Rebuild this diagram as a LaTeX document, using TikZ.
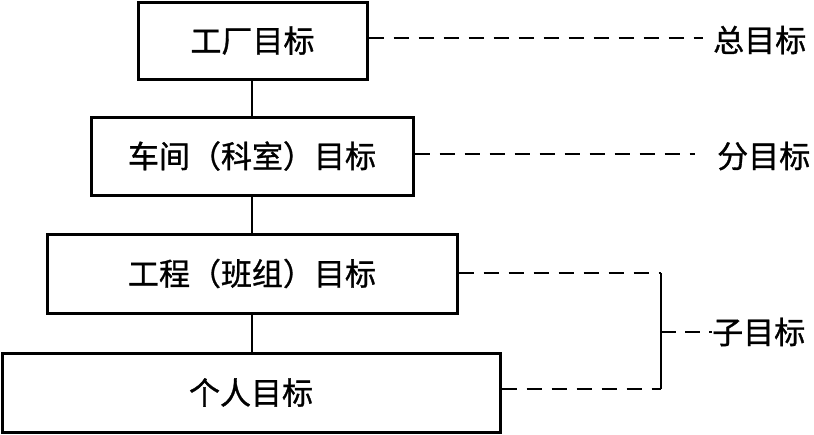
\documentclass[tikz,border=0pt]{standalone}
\usepackage{fontspec}
\newfontfamily\cjk[FakeBold=1]{Noto Sans CJK SC}
\begin{document}
\begin{tikzpicture}[x=1pt,y=-1pt,
  goalbox/.style={draw,line width=3pt,rectangle,inner sep=0pt,font=\cjk\fontsize{31}{36}\selectfont},
  goallabel/.style={inner sep=0pt,anchor=west,font=\cjk\fontsize{31}{36}\selectfont},
  link/.style={line width=2pt},
  dashlink/.style={line width=2pt,dash pattern=on 15pt off 10pt}]
\useasboundingbox (0,0) rectangle (814,434);
\node[goalbox,minimum width=229pt,minimum height=77pt] (b1) at (252.5,40.5) {工厂目标};
\node[goalbox,minimum width=322pt,minimum height=78pt] (b2) at (252,156) {车间（科室）目标};
\node[goalbox,minimum width=410pt,minimum height=79pt] (b3) at (252,273.5) {工程（班组）目标};
\node[goalbox,minimum width=498pt,minimum height=79pt] (b4) at (251,392.5) {个人目标};
\draw[link] (b1.south -| 252,0) -- (b2.north -| 252,0);
\draw[link] (b2.south -| 252,0) -- (b3.north -| 252,0);
\draw[link] (b3.south -| 252,0) -- (b4.north -| 252,0);
\node[goallabel] (t1) at (713,40) {总目标};
\node[goallabel] (t2) at (717,156) {分目标};
\node[goallabel] (t3) at (712,332) {子目标};
\coordinate (j3) at (661,273);
\coordinate (j4) at (661,389);
\coordinate (jm) at (661,332);
\draw[dashlink] (b1.east |- 0,38) -- ([xshift=-10pt]t1.west |- 0,38);
\draw[dashlink] (b2.east |- 0,154) -- ([xshift=-22pt]t2.west |- 0,154);
\draw[dashlink] (b3.east |- j3) -- (j3);
\draw[dashlink] (b4.east |- j4) -- (j4);
\draw[link] (j3) -- (j4);
\draw[dashlink,dash pattern=on 15pt off 9pt] (jm) -- (t3.west |- jm);
\end{tikzpicture}
\end{document}
